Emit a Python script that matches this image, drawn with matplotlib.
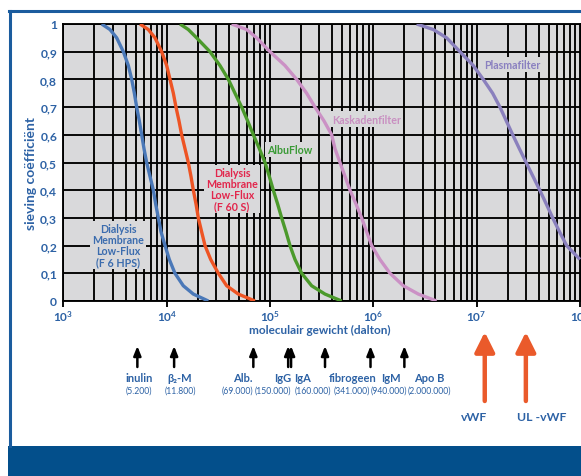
import numpy as np
import matplotlib
matplotlib.use('Agg')
import matplotlib.pyplot as plt
from matplotlib.lines import Line2D
from matplotlib.patches import Rectangle

# sieving coefficient curves (molecular weight in dalton)
sieve = [1.0, 0.98, 0.95, 0.9, 0.85, 0.8, 0.75, 0.7, 0.65, 0.6, 0.55, 0.5, 0.45, 0.4,
         0.35, 0.3, 0.25, 0.2, 0.15, 0.1, 0.055, 0.025, 0.0]
mw_f6hps = [2347, 2825, 3280, 3805, 4253, 4583, 4864, 5122, 5433, 5726, 6030, 6397, 6893,
            7427, 7823, 8300, 8810, 9637, 10601, 12023, 14480, 18110, 25290]
mw_f60s = [5514, 6637, 7705, 8939, 10000, 10772, 11600, 12303, 13154, 13958, 15040, 16190,
           17180, 18110, 19230, 20240, 21790, 23490, 26660, 31620, 38080, 49370, 71610]
mw_albuflow = [13454, 16190, 19490, 26240, 32810, 39540, 45830, 53200, 60820, 69000, 78910,
               89500, 98500, 107700, 118600, 129700, 142800, 156200, 174600, 202700, 253100,
               340700, 494200]
mw_kaskade = [42570, 59430, 74270, 100000, 139700, 181200, 226500, 272700, 333500, 395700,
              425700, 476000, 532400, 595200, 680700, 771600, 862700, 964700, 1160000,
              1452000, 1954000, 2730000, 4103000]
sieve_plasma = [1.0, 0.98, 0.95, 0.9, 0.85, 0.8, 0.75, 0.7, 0.65, 0.6, 0.55, 0.5, 0.45,
                0.4, 0.35, 0.3, 0.25, 0.2, 0.15]
mw_plasma = [2.63e6, 3.811e6, 5.131e6, 6.905e6, 9.29e6, 1.161e7, 1.431e7, 1.684e7, 1.941e7,
             2.239e7, 2.594e7, 3.02e7, 3.516e7, 4.093e7, 4.732e7, 5.458e7, 6.353e7, 7.447e7,
             1.002e8]

# marker proteins
proteins = ['inulin', 'β₂-M', 'Alb.', 'IgG', 'IgA', 'fibrogeen', 'IgM', 'Apo B']
protein_mw = [5200, 11800, 69000, 150000, 160000, 341000, 940000, 2000000]
vwf_names = ['vWF', 'UL -vWF']
vwf_mw = [1.2e7, 3.0e7]

W, H = 581, 477
BLUE_TXT = '#2d62a5'
BAND = '#034f8b'
GRAY = '#d9d9db'

plt.rcParams['font.family'] = ['Lato', 'DejaVu Sans']
plt.rcParams['mathtext.fontset'] = 'custom'
plt.rcParams['mathtext.rm'] = 'Lato:bold'
plt.rcParams['mathtext.bf'] = 'Lato:bold'
plt.rcParams['mathtext.it'] = 'Lato:bold'

def fx(px):
    return px / W

def fy(py):
    return 1 - py / H

fig = plt.figure(figsize=(W / 100, H / 100), dpi=100)
ax = fig.add_axes([fx(63.4), fy(302), fx(W - 63.4), (302 - 25) / H])
ax.set_facecolor(GRAY)
ax.set_xscale('log')
ax.set_xlim(1e3, 10 ** 8.011)
ax.set_ylim(0, 1)

# grid
ax.set_axisbelow(True)
ax.grid(which='both', axis='x', color='black', lw=1.35)
ax.grid(which='major', axis='y', color='black', lw=1.35)
for s in ax.spines.values():
    s.set_color('black')
    s.set_linewidth(1.35)

ax.set_xticks([1e3, 1e4, 1e5, 1e6, 1e7, 1e8])
ax.set_xticklabels([r'$10^{%d}$' % k for k in range(3, 9)])
ax.set_yticks(np.arange(0, 1.01, 0.1))
ax.set_yticklabels(['0'] + ['0,%d' % k for k in range(1, 10)] + ['1'])
ax.tick_params(axis='x', which='major', length=4, width=1.35, color='black',
               pad=1.5, labelsize=8.5, labelcolor=BLUE_TXT)
ax.tick_params(axis='x', which='minor', length=0)
ax.tick_params(axis='y', length=0, pad=4.5, labelsize=8.7, labelcolor=BLUE_TXT)
for t in ax.get_yticklabels():
    t.set_fontweight('bold')

# curves
curves = [
    (mw_f6hps, sieve, '#4a78b8'),
    (mw_f60s, sieve, '#ee5424'),
    (mw_albuflow, sieve, '#4c9a2c'),
    (mw_kaskade, sieve, '#cb91c5'),
    (mw_plasma, sieve_plasma, '#8a80bd'),
]
for mw, s, c in curves:
    ax.plot(mw, s, color=c, lw=2.4, solid_capstyle='butt', solid_joinstyle='round', zorder=4)

box = dict(facecolor=GRAY, edgecolor='none', pad=1.5)
lab_kw = dict(ha='center', va='center', fontsize=7.7, fontweight='bold',
              linespacing=1.0, bbox=box, zorder=3)
ax.text(3380, 0.202, 'Dialysis\nMembrane\nLow-Flux\n(F 6 HPS)', color='#3b6cae', **lab_kw)
ax.text(42850, 0.404, 'Dialysis\nMembrane\nLow-Flux\n(F 60 S)', color='#e2264c', **lab_kw)
ax.text(156000, 0.546, 'AlbuFlow', color='#3a9a36', **lab_kw)
ax.text(859000, 0.657, 'Kaskadenfilter', color='#c98fc1', **lab_kw)
ax.text(2.23e7, 0.853, 'Plasmafilter', color='#8a80c0', **lab_kw)

fig.text(fx(31), fy(174), 'sieving coëfficiënt', rotation=90, ha='center', va='center',
         fontsize=10, fontweight='bold', color=BLUE_TXT)
fig.text(fx(320), fy(330), 'moleculair gewicht (dalton)', ha='center', va='center',
         fontsize=8.5, fontweight='bold', color=BLUE_TXT)

# protein markers below the axis
name_x = [139, 180, 243, 283, 303, 353, 391, 429]
value_x = [139, 180, 237, 273, 313, 352, 389, 429]
for name, mw, nx, vx in zip(proteins, protein_mw, name_x, value_x):
    ax.annotate('', xy=(mw, H - 347), xytext=(mw, H - 368),
                xycoords=('data', 'figure pixels'), textcoords=('data', 'figure pixels'),
                annotation_clip=False,
                arrowprops=dict(arrowstyle='-|>,head_length=0.55,head_width=0.22', lw=1.8,
                                color='black', mutation_scale=10, shrinkA=0, shrinkB=0))
    fig.text(fx(nx), fy(379), name, ha='center', va='center', fontsize=8,
             fontweight='bold', color=BLUE_TXT)
    fig.text(fx(vx), fy(391), '(%s)' % format(mw, ',').replace(',', '.'), ha='center',
             va='center', fontsize=6.2, color=BLUE_TXT)

vwf_label_x = [474, 542]
for name, mw, lx in zip(vwf_names, vwf_mw, vwf_label_x):
    ax.annotate('', xy=(mw, H - 333), xytext=(mw, H - 402),
                xycoords=('data', 'figure pixels'), textcoords=('data', 'figure pixels'),
                annotation_clip=False,
                arrowprops=dict(arrowstyle='-|>,head_length=0.6,head_width=0.3', lw=3.2,
                                color='#ea5a2b', mutation_scale=20, shrinkA=0, shrinkB=0))
    fig.text(fx(lx), fy(418), name, ha='center', va='center', fontsize=8.8,
             fontweight='bold', color=BLUE_TXT)

# frame and bottom band
fig.add_artist(Line2D([fx(10), fx(10)], [fy(12), fy(447)], color='#1b5c9e', lw=2.2,
                      transform=fig.transFigure))
fig.add_artist(Line2D([fx(9), 1.0], [fy(12), fy(12)], color='#1b5c9e', lw=2.2,
                      transform=fig.transFigure))
fig.add_artist(Rectangle((fx(8), 0), 1 - fx(8), 30 / H, facecolor=BAND, edgecolor='none',
                         transform=fig.transFigure))

fig.savefig('out.png', dpi=100)
